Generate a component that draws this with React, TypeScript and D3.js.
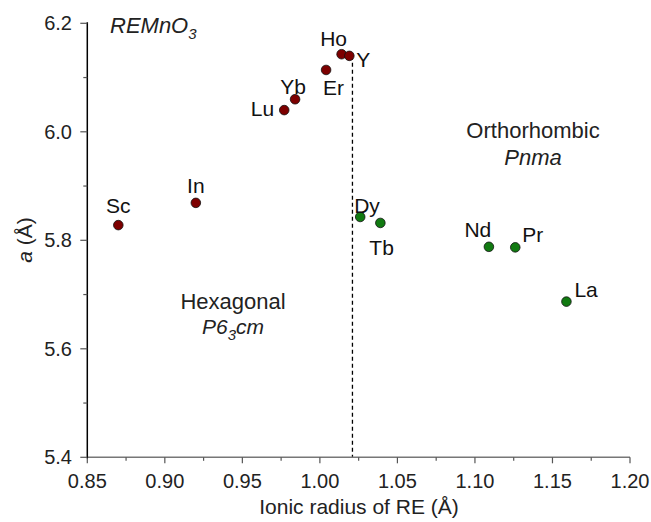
import React from "react";
import * as d3 from "d3";

const hexNames = ["Sc", "In", "Lu", "Yb", "Er", "Ho", "Y"];
const hexRadius = [0.870, 0.920, 0.977, 0.984, 1.004, 1.014, 1.019];
const hexA = [5.828, 5.869, 6.040, 6.060, 6.114, 6.143, 6.140];

const orthoNames = ["Dy", "Tb", "Nd", "Pr", "La"];
const orthoRadius = [1.026, 1.039, 1.109, 1.126, 1.159];
const orthoA = [5.843, 5.832, 5.788, 5.787, 5.687];

const xTicks = [0.85, 0.9, 0.95, 1.0, 1.05, 1.1, 1.15, 1.2];
const yTicks = [5.4, 5.6, 5.8, 6.0, 6.2];
const boundary = 1.021;

// label offsets (dx, dy, anchor) relative to point
const labelPos: Record<string, [number, number, string]> = {
  Sc: [0, -12, "middle"],
  In: [0, -10, "middle"],
  Lu: [-10, 6, "end"],
  Yb: [-2, -5, "middle"],
  Er: [-3, 25, "start"],
  Ho: [-8, -8, "middle"],
  Y: [7, 11, "start"],
  Dy: [-6, -4, "start"],
  Tb: [-11, 32, "start"],
  Nd: [-11, -10, "middle"],
  Pr: [7, -5, "start"],
  La: [8, -5, "start"],
};

export default function App() {
  const W = 651, H = 522;
  const x = d3.scaleLinear().domain([0.85, 1.2]).range([87.3, 630]);
  const y = d3.scaleLinear().domain([5.4, 6.2]).range([457.3, 23.3]);
  const font = "'Liberation Sans', Arial, sans-serif";
  const minorX = d3.range(0, 7).map((i) => 0.875 + i * 0.05);
  const minorY = [5.5, 5.7, 5.9, 6.1];
  const pts = [
    ...hexNames.map((n, i) => ({ n, r: hexRadius[i], a: hexA[i], c: "#7d0000" })),
    ...orthoNames.map((n, i) => ({ n, r: orthoRadius[i], a: orthoA[i], c: "#117a11" })),
  ];
  const y0 = y.range()[0];
  const x0 = x.range()[0];
  return (
    <svg width={W} height={H} style={{ position: "absolute", left: 0, top: 0 }} fontFamily={font}>
      <rect width={W} height={H} fill="#fff" />
      {/* dashed boundary */}
      <line x1={x(boundary)} x2={x(boundary)} y1={y(6.14)} y2={y0} stroke="#000" strokeWidth={1.3} strokeDasharray="4,3" />
      {/* x axis */}
      <line x1={x0} x2={x.range()[1]} y1={y0} y2={y0} stroke="#777" strokeWidth={1.5} />
      {xTicks.map((t) => (
        <g key={"xt" + t}>
          <line x1={x(t)} x2={x(t)} y1={y0} y2={y0 + 6} stroke="#555" strokeWidth={1.2} />
          <text x={x(t)} y={488} fontSize={20} textAnchor="middle" fill="#222">{t.toFixed(2)}</text>
        </g>
      ))}
      {minorX.map((t) => (
        <line key={"xm" + t} x1={x(t)} x2={x(t)} y1={y0} y2={y0 + 3.5} stroke="#555" strokeWidth={1.2} />
      ))}
      {/* y axis */}
      <line x1={x0} x2={x0} y1={y(6.2) - 1} y2={y0 + 1} stroke="#000" strokeWidth={1.5} />
      {yTicks.map((t) => (
        <g key={"yt" + t}>
          <line x1={x0 - 7} x2={x0} y1={y(t)} y2={y(t)} stroke="#555" strokeWidth={1.2} />
          <text x={72} y={y(t) + 7} fontSize={20} textAnchor="end" fill="#222">{t.toFixed(1)}</text>
        </g>
      ))}
      {minorY.map((t) => (
        <line key={"ym" + t} x1={x0 - 4} x2={x0} y1={y(t)} y2={y(t)} stroke="#555" strokeWidth={1.2} />
      ))}
      {/* axis titles */}
      <text x={359} y={514} fontSize={21} textAnchor="middle" fill="#222">Ionic radius of RE (Å)</text>
      <text transform="translate(32,240) rotate(-90)" fontSize={21} textAnchor="middle" fill="#222">
        <tspan fontStyle="italic">a</tspan> (Å)
      </text>
      {/* annotations */}
      <text x={110} y={33} fontSize={22} fontStyle="italic" fill="#222">
        REMnO<tspan fontSize={15} dy={6}>3</tspan>
      </text>
      <text x={533} y={138} fontSize={22} textAnchor="middle" fill="#222">Orthorhombic</text>
      <text x={533} y={165} fontSize={22} textAnchor="middle" fontStyle="italic" fill="#222">Pnma</text>
      <text x={233} y={309} fontSize={22} textAnchor="middle" fill="#222">Hexagonal</text>
      <text x={233} y={334} fontSize={21} textAnchor="middle" fontStyle="italic" fill="#222">
        P6<tspan fontSize={15} dy={6}>3</tspan><tspan dy={-6}>cm</tspan>
      </text>
      {/* points */}
      {pts.map((p) => (
        <circle key={p.n} cx={x(p.r)} cy={y(p.a)} r={4.8} fill={p.c} stroke="#111" strokeWidth={0.8} />
      ))}
      {pts.map((p) => {
        const [dx, dy, anchor] = labelPos[p.n];
        return (
          <text key={"l" + p.n} x={x(p.r) + dx} y={y(p.a) + dy} fontSize={21} textAnchor={anchor as any} fill="#111">
            {p.n}
          </text>
        );
      })}
    </svg>
  );
}
